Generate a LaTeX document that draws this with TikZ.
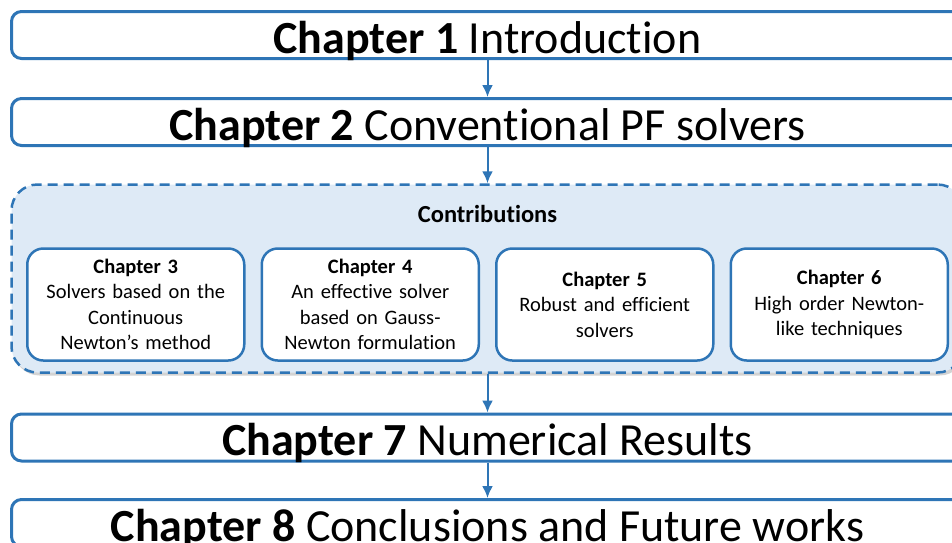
\documentclass[tikz,border=0pt]{standalone}
\usepackage{xcolor}
\usepackage{fontspec}
\setmainfont{Carlito}[Ligatures=NoCommon]
\usepackage{tikz}
\usetikzlibrary{arrows,arrows.meta,shapes,positioning,shadows}

\definecolor{chapblue}{HTML}{2E75B6}
\definecolor{contribfill}{HTML}{DEEAF6}

\tikzset{
    bigchap/.style={draw=chapblue, line width=3pt, rounded corners=10pt,
        minimum width=952pt, minimum height=47pt, inner sep=0pt,
        font=\fontsize{46}{50}\selectfont, text height=38pt, text depth=2pt},
    subchap/.style={draw=chapblue, fill=white, line width=2.5pt, rounded corners=16pt,
        minimum width=217pt, minimum height=112pt, text width=210pt, align=center,
        inner sep=0pt, font=\fontsize{20.5}{25.5}\selectfont},
    contribbox/.style={draw=chapblue, dash pattern=on 10pt off 6pt, fill=contribfill,
        line width=2.5pt, rounded corners=26pt, minimum width=952pt, minimum height=188pt,
        inner sep=0pt, drop shadow={shadow xshift=2pt, shadow yshift=-3pt, opacity=0.35}},
    flow/.style={draw=chapblue, line width=2pt, ->, >={Latex[length=12pt,width=11pt]}},
}

\begin{document}
\begin{tikzpicture}[x=1pt,y=-1pt]
        \useasboundingbox (0,0) rectangle (952,542);
        \clip (0,0) rectangle (952,542);

        \node[bigchap] (C1) at (487.5,35) {\textbf{Chapter 1} Introduction} ;
        \node[bigchap] (C2) at (487.5,122) {\textbf{Chapter 2} Conventional PF solvers} ;

        \node[contribbox] (CB) at (487.5,278.5) {} ;
        \node[font=\fontsize{24.5}{27}\selectfont\bfseries] (CT) at (487.5,214) {Contributions} ;

        \node[subchap] (C3) at (135.75,304.5) {\textbf{Chapter 3}\\Solvers based on the\\Continuous\\Newton’s method} ;
        \node[subchap] (C4) at (370.25,304.5) {\textbf{Chapter 4}\\An effective solver\\based on Gauss-\\Newton formulation} ;
        \node[subchap] (C5) at (604.75,304.5) {\textbf{Chapter 5}\\Robust and efficient\\solvers} ;
        \node[subchap] (C6) at (839.25,304.5) {\textbf{Chapter 6}\\High order Newton-\\like techniques} ;

        \node[bigchap] (C7) at (487.5,437.5) {\textbf{Chapter 7} Numerical Results} ;
        \node[bigchap] (C8) at (487.5,523) {\textbf{Chapter 8} Conclusions and Future works} ;

        \draw[flow] (C1) -- (C2) ;
        \draw[flow] (C2) -- (CB) ;
        \draw[flow] (CB) -- (C7) ;
        \draw[flow] (C7) -- (C8) ;
    \end{tikzpicture}
\end{document}
